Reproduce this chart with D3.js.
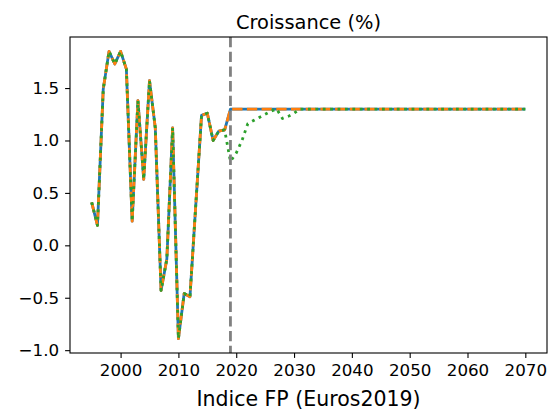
<!DOCTYPE html>
<html>
<head>
<meta charset="utf-8">
<script src="https://cdn.jsdelivr.net/npm/d3@7"></script>
<style>
  html, body { margin: 0; padding: 0; background: #ffffff; }
  svg { display: block; font-family: "DejaVu Sans", sans-serif; }
</style>
</head>
<body>
<svg id="chart" width="552" height="411"></svg>
<script>
const years = [1995,1996,1997,1998,1999,2000,2001,2002,2003,2004,2005,2006,2007,2008,2009,2010,
  2011,2012,2013,2014,2015,2016,2017,2018,2019,2020,2021,2022,2023,2024,2025,2026,2027,2028,2029,2030,
  2031,2032,2033,2034,2035,2036,2037,2038,2039,2040,2041,2042,2043,2044,2045,2046,2047,2048,2049,2050,
  2051,2052,2053,2054,2055,2056,2057,2058,2059,2060,2061,2062,2063,2064,2065,2066,2067,2068,2069,2070];

const seriesBlue = [0.41,0.19,1.49,1.85,1.73,1.85,1.68,0.23,1.38,0.63,1.57,1.12,-0.43,-0.13,1.12,-0.89,
  -0.46,-0.49,0.38,1.24,1.26,1.00,1.09,1.10,1.30,1.30,1.30,1.30,1.30,1.30,1.30,1.30,1.30,1.30,1.30,1.30,
  1.30,1.30,1.30,1.30,1.30,1.30,1.30,1.30,1.30,1.30,1.30,1.30,1.30,1.30,1.30,1.30,1.30,1.30,1.30,1.30,
  1.30,1.30,1.30,1.30,1.30,1.30,1.30,1.30,1.30,1.30,1.30,1.30,1.30,1.30,1.30,1.30,1.30,1.30,1.30,1.30];

const seriesOrange = [0.41,0.19,1.49,1.85,1.73,1.85,1.68,0.23,1.38,0.63,1.57,1.12,-0.43,-0.13,1.12,-0.89,
  -0.46,-0.49,0.38,1.24,1.26,1.00,1.09,1.10,1.30,1.30,1.30,1.30,1.30,1.30,1.30,1.30,1.30,1.30,1.30,1.30,
  1.30,1.30,1.30,1.30,1.30,1.30,1.30,1.30,1.30,1.30,1.30,1.30,1.30,1.30,1.30,1.30,1.30,1.30,1.30,1.30,
  1.30,1.30,1.30,1.30,1.30,1.30,1.30,1.30,1.30,1.30,1.30,1.30,1.30,1.30,1.30,1.30,1.30,1.30,1.30,1.30];

const seriesGreen = [0.41,0.19,1.49,1.85,1.73,1.85,1.68,0.23,1.38,0.63,1.57,1.12,-0.43,-0.13,1.12,-0.89,
  -0.46,-0.49,0.38,1.24,1.26,1.00,1.09,1.10,0.80,0.88,1.00,1.16,1.19,1.22,1.25,1.28,1.30,1.21,1.23,1.26,
  1.30,1.30,1.30,1.30,1.30,1.30,1.30,1.30,1.30,1.30,1.30,1.30,1.30,1.30,1.30,1.30,1.30,1.30,1.30,1.30,
  1.30,1.30,1.30,1.30,1.30,1.30,1.30,1.30,1.30,1.30,1.30,1.30,1.30,1.30,1.30,1.30,1.30,1.30,1.30,1.30];

const xTicks = [2000, 2010, 2020, 2030, 2040, 2050, 2060, 2070];
const yTicks = [-1.0, -0.5, 0.0, 0.5, 1.0, 1.5];
const refYear = 2019;
const titleText = "Croissance (%)";
const xLabelText = "Indice FP (Euros2019)";

const W = 552, H = 411;
const m = { left: 70, right: 547, top: 37, bottom: 353 };

const svg = d3.select("#chart");

// Matplotlib-like 5% margins
const xExt = d3.extent(years);
const xPad = (xExt[1] - xExt[0]) * 0.05;
const allY = seriesBlue.concat(seriesOrange, seriesGreen);
const yExt = d3.extent(allY);
const yPad = (yExt[1] - yExt[0]) * 0.05;

const x = d3.scaleLinear().domain([xExt[0] - xPad, xExt[1] + xPad]).range([m.left, m.right]);
const y = d3.scaleLinear().domain([yExt[0] - yPad, yExt[1] + yPad]).range([m.bottom, m.top]);

const g = svg.append("g");

svg.append("defs").append("clipPath").attr("id", "clip")
  .append("rect").attr("x", m.left).attr("y", m.top)
  .attr("width", m.right - m.left).attr("height", m.bottom - m.top);

const plot = g.append("g").attr("clip-path", "url(#clip)");

const line = d3.line().x((d, i) => x(years[i])).y(d => y(d));

plot.append("path").datum(seriesBlue)
  .attr("d", line).attr("fill", "none")
  .attr("stroke", "#1f77b4").attr("stroke-width", 2.8)
  .attr("stroke-linejoin", "round").attr("stroke-linecap", "butt");

plot.append("path").datum(seriesOrange)
  .attr("d", line).attr("fill", "none")
  .attr("stroke", "#ff7f0e").attr("stroke-width", 2.8)
  .attr("stroke-dasharray", "10.3,4.4")
  .attr("stroke-linejoin", "round");

plot.append("path").datum(seriesGreen)
  .attr("d", line).attr("fill", "none")
  .attr("stroke", "#2ca02c").attr("stroke-width", 2.8)
  .attr("stroke-dasharray", "2.8,4.6")
  .attr("stroke-linejoin", "round");

plot.append("line")
  .attr("x1", x(refYear)).attr("x2", x(refYear))
  .attr("y1", m.top).attr("y2", m.bottom)
  .attr("stroke", "#808080").attr("stroke-width", 2.8)
  .attr("stroke-dasharray", "10.3,4.4");

const xAxis = d3.axisBottom(x).tickValues(xTicks).tickFormat(d3.format("d"))
  .tickSize(4.9).tickPadding(6);
const yAxis = d3.axisLeft(y).tickValues(yTicks)
  .tickFormat(d => d3.format(".1f")(d).replace("-", "\u2212"))
  .tickSize(4.9).tickPadding(6);

const gx = g.append("g").attr("transform", `translate(0,${m.bottom})`).call(xAxis);
const gy = g.append("g").attr("transform", `translate(${m.left},0)`).call(yAxis);
[gx, gy].forEach(a => {
  a.select(".domain").remove();
  a.selectAll(".tick line").attr("stroke", "#000").attr("stroke-width", 1.1);
  a.selectAll(".tick text").attr("fill", "#000")
    .style("font-family", "'DejaVu Sans', sans-serif").style("font-size", "16.7px");
});

g.append("rect")
  .attr("x", m.left).attr("y", m.top)
  .attr("width", m.right - m.left).attr("height", m.bottom - m.top)
  .attr("fill", "none").attr("stroke", "#000").attr("stroke-width", 1.1);

svg.append("text")
  .attr("x", (m.left + m.right) / 2).attr("y", 29)
  .attr("text-anchor", "middle")
  .style("font-size", "19.4px").attr("fill", "#000")
  .text(titleText);

svg.append("text")
  .attr("x", (m.left + m.right) / 2).attr("y", 406)
  .attr("text-anchor", "middle")
  .style("font-size", "20.5px").attr("fill", "#000")
  .text(xLabelText);
</script>
</body>
</html>
